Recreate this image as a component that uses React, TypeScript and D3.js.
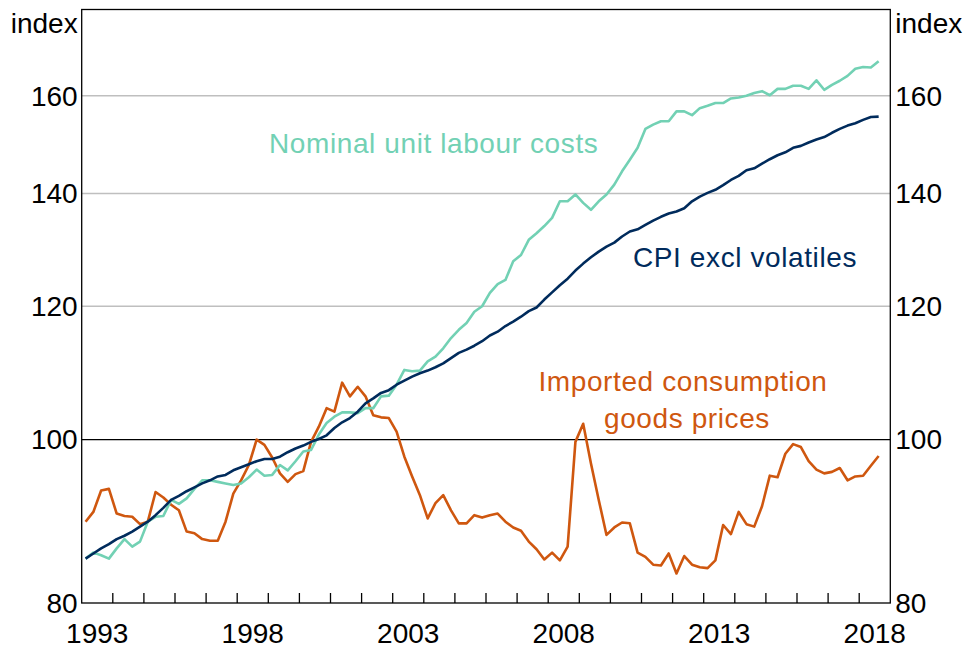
import React from "react";
import * as d3 from "d3";

// Quarterly data, 1993 Q1 to 2018 Q3 (index, log scale)
const START_YEAR = 1993;

const cpiExclVolatiles = [
  85.0, 85.6, 86.2, 86.7, 87.3, 87.7, 88.2, 88.8, 89.4, 90.2,
  91.1, 92.1, 92.6, 93.2, 93.7, 94.2, 94.6, 95.1, 95.3, 95.9,
  96.3, 96.7, 97.1, 97.4, 97.4, 97.7, 98.3, 98.8, 99.2, 99.7,
  100.1, 100.6, 101.6, 102.4, 103.0, 103.9, 105.1, 105.8, 106.6, 107.0,
  107.8, 108.4, 109.0, 109.5, 109.9, 110.4, 111.0, 111.8, 112.6, 113.1,
  113.7, 114.4, 115.3, 115.9, 116.8, 117.5, 118.3, 119.2, 119.8, 121.1,
  122.3, 123.5, 124.6, 126.0, 127.2, 128.3, 129.3, 130.2, 130.9, 132.0,
  132.9, 133.3, 134.1, 134.9, 135.6, 136.2, 136.6, 137.2, 138.5, 139.4,
  140.1, 140.7, 141.6, 142.6, 143.4, 144.5, 144.9, 145.8, 146.7, 147.5,
  148.1, 149.0, 149.4, 150.1, 150.7, 151.2, 152.1, 152.9, 153.6, 154.1,
  154.8, 155.4, 155.5,
];

const nominalUnitLabourCosts = [
  85.0, 85.7, 85.4, 85.0, 86.2, 87.3, 86.4, 87.0, 89.4, 90.0,
  90.1, 92.1, 91.6, 92.3, 93.5, 94.6, 94.6, 94.4, 94.2, 94.0,
  94.2, 95.0, 96.0, 95.2, 95.3, 96.6, 95.9, 97.1, 98.4, 98.6,
  100.7, 102.3, 103.2, 103.8, 103.8, 103.7, 104.4, 104.4, 106.1, 106.2,
  107.8, 110.0, 109.8, 109.9, 111.3, 112.0, 113.3, 114.9, 116.2, 117.3,
  119.1, 120.0, 122.2, 123.7, 124.4, 127.6, 128.7, 131.4, 132.6, 133.9,
  135.4, 138.5, 138.5, 139.8, 138.2, 136.9, 138.5, 139.8, 141.7, 144.3,
  146.6, 149.0, 152.9, 153.8, 154.5, 154.5, 156.6, 156.6, 155.8, 157.3,
  157.8, 158.4, 158.4, 159.4, 159.6, 160.0, 160.6, 161.0, 160.1, 161.5,
  161.5, 162.2, 162.2, 161.5, 163.4, 161.3, 162.4, 163.3, 164.4, 166.0,
  166.4, 166.3, 167.7,
];

const importedConsumptionGoodsPrices = [
  89.4, 90.6, 93.3, 93.5, 90.4, 90.1, 90.0, 89.1, 89.4, 93.1,
  92.4, 91.5, 90.8, 88.2, 88.0, 87.3, 87.1, 87.1, 89.4, 92.9,
  94.6, 96.6, 100.0, 99.3, 97.6, 95.5, 94.4, 95.4, 95.8, 99.7,
  101.8, 104.4, 103.9, 108.1, 106.1, 107.5, 106.1, 103.4, 103.1, 103.0,
  101.1, 97.7, 95.1, 92.7, 89.8, 91.7, 92.7, 90.8, 89.2, 89.2,
  90.2, 89.9, 90.2, 90.4, 89.4, 88.7, 88.3, 87.0, 86.1, 84.9,
  85.7, 84.8, 86.4, 99.7, 102.2, 96.8, 92.1, 87.8, 88.7, 89.3,
  89.2, 85.7, 85.2, 84.3, 84.2, 85.6, 83.3, 85.3, 84.3, 84.0,
  83.9, 84.8, 89.0, 87.9, 90.6, 89.1, 88.8, 91.3, 95.2, 95.0,
  98.1, 99.4, 99.0, 97.1, 96.0, 95.5, 95.7, 96.2, 94.6, 95.1,
  95.2, 96.5, 97.8,
];

const yTicks = [80, 100, 120, 140, 160];
const xLabelYears = [1993, 1998, 2003, 2008, 2013, 2018];
const xTickYears = d3.range(1994, 2019);

const COLORS = {
  teal: "#72D1B4",
  navy: "#002B5C",
  orange: "#CF570F",
  grid: "#BFBFBF",
};

const FONT = "'Liberation Sans', Arial, sans-serif";

export default function App() {
  const W = 966;
  const H = 651;
  const left = 81.7;
  const right = 890.3;
  const top = 9.5;
  const bottom = 603;

  const x = d3.scaleLinear().domain([1993, 2019]).range([left, right]);
  const y = d3.scaleLog().domain([80, 180]).range([bottom, top]);

  const qDate = (i: number) => START_YEAR + i * 0.25 + 0.125;
  const line = d3
    .line<number>()
    .x((_, i) => x(qDate(i)))
    .y((v) => y(v));

  const series = [
    { data: importedConsumptionGoodsPrices, color: COLORS.orange },
    { data: nominalUnitLabourCosts, color: COLORS.teal },
    { data: cpiExclVolatiles, color: COLORS.navy },
  ];

  return (
    <svg
      width={W}
      height={H}
      style={{ position: "absolute", left: 0, top: 0, background: "#fff" }}
      fontFamily={FONT}
    >
      {/* gridlines */}
      {yTicks
        .filter((t) => t !== 80 && t !== 100)
        .map((t) => (
          <line
            key={t}
            x1={left}
            x2={right}
            y1={y(t)}
            y2={y(t)}
            stroke={COLORS.grid}
            strokeWidth={1.5}
          />
        ))}
      <line x1={left} x2={right} y1={y(100)} y2={y(100)} stroke="#000" strokeWidth={1.3} />

      {/* x ticks */}
      {xTickYears.map((yr) => (
        <line
          key={yr}
          x1={x(yr)}
          x2={x(yr)}
          y1={bottom}
          y2={bottom - 10}
          stroke="#000"
          strokeWidth={1.3}
        />
      ))}

      {/* series */}
      {series.map((s, k) => (
        <path
          key={k}
          d={line(s.data) || ""}
          fill="none"
          stroke={s.color}
          strokeWidth={2.6}
          strokeLinejoin="round"
        />
      ))}

      {/* frame */}
      <rect
        x={left}
        y={top}
        width={right - left}
        height={bottom - top}
        fill="none"
        stroke="#000"
        strokeWidth={1.3}
      />

      {/* y labels */}
      {yTicks.map((t) => (
        <g key={t} fontSize={28} fill="#000">
          <text x={left - 4} y={y(t)} dy="0.35em" textAnchor="end">
            {t}
          </text>
          <text x={right + 5} y={y(t)} dy="0.35em" textAnchor="start">
            {t}
          </text>
        </g>
      ))}
      <text x={left - 4} y={33} fontSize={28} textAnchor="end">
        index
      </text>
      <text x={right + 5} y={33} fontSize={28} textAnchor="start">
        index
      </text>

      {/* x labels */}
      {xLabelYears.map((yr) => (
        <text key={yr} x={x(yr + 0.5)} y={643} fontSize={28} textAnchor="middle">
          {yr}
        </text>
      ))}

      {/* series labels */}
      <g fontSize={28} letterSpacing={0.6}>
        <text x={269} y={153} fill={COLORS.teal}>
          Nominal unit labour costs
        </text>
        <text x={633} y={267} fill={COLORS.navy}>
          CPI excl volatiles
        </text>
        <text x={683} y={391} fill={COLORS.orange} textAnchor="middle">
          Imported consumption
        </text>
        <text x={687} y={428} fill={COLORS.orange} textAnchor="middle">
          goods prices
        </text>
      </g>
    </svg>
  );
}
